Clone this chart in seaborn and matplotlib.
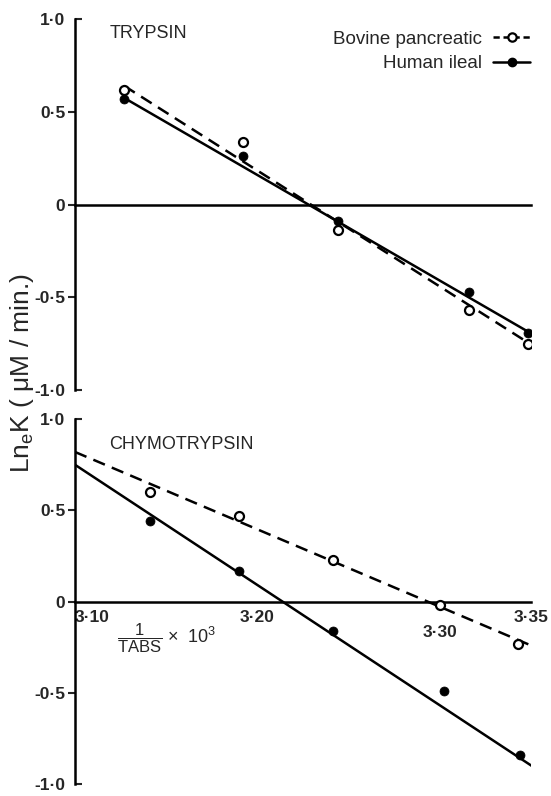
import numpy as np
import pandas as pd
import seaborn as sns
import matplotlib.pyplot as plt
from matplotlib.ticker import FixedLocator, FixedFormatter
from matplotlib.lines import Line2D

# Points (x = 1/T_abs x 10^3, y = ln K)
trypsin_x = [3.127, 3.192, 3.244, 3.316, 3.348]
trypsin_bovine = [0.62, 0.34, -0.135, -0.57, -0.75]
trypsin_human = [0.57, 0.26, -0.09, -0.47, -0.69]

chymo_x_bovine = [3.141, 3.190, 3.2415, 3.300, 3.343]
chymo_bovine = [0.60, 0.47, 0.23, -0.02, -0.23]
chymo_x_human = [3.141, 3.190, 3.2415, 3.302, 3.344]
chymo_human = [0.44, 0.17, -0.16, -0.49, -0.84]

# Fitted lines (end values)
trypsin_fit_x = [3.127, 3.350]
trypsin_fit_bovine = [0.64, -0.755]
trypsin_fit_human = [0.575, -0.695]
chymo_fit_x = [3.10, 3.351]
chymo_fit_bovine = [0.82, -0.245]
chymo_fit_human = [0.75, -0.905]

x_ticks = [3.10, 3.15, 3.20, 3.25, 3.30, 3.35]
x_labels = ["3·10", "", "3·20", "", "3·30", "3·35"]

sns.set_style("white")
plt.rcParams["font.family"] = ["Liberation Sans", "DejaVu Sans"]
plt.rcParams["mathtext.fontset"] = "custom"
plt.rcParams["mathtext.rm"] = "Liberation Sans"
plt.rcParams["mathtext.it"] = "Liberation Sans:italic"

fig = plt.figure(figsize=(5.51, 7.96), dpi=100)
ax1 = fig.add_axes([0.136, 0.510, 0.828, 0.466])
ax2 = fig.add_axes([0.136, 0.015, 0.828, 0.4585])

open_kw = dict(marker="o", s=42, facecolor="white", edgecolor="black", linewidth=1.6, zorder=3)
fill_kw = dict(marker="o", s=42, color="black", edgecolor="black", zorder=3)


def style_axis(ax, bottom):
    ax.set_xlim(3.10, 3.35)
    ax.set_ylim(-1.0, 1.0)
    for s in ["top", "right"]:
        ax.spines[s].set_visible(False)
    ax.spines["bottom"].set_position(("data", 0))
    ax.spines["left"].set_bounds(-1.0, 1.0)
    for s in ["left", "bottom"]:
        ax.spines[s].set_linewidth(1.8)
        ax.spines[s].set_color("black")
    ax.xaxis.set_major_locator(FixedLocator(x_ticks))
    if bottom:
        ax.xaxis.set_major_formatter(FixedFormatter(x_labels))
    else:
        ax.xaxis.set_major_formatter(FixedFormatter([""] * len(x_ticks)))
    ax.tick_params(axis="x", direction="in", length=4, width=1.5, labelsize=12.5, pad=6)
    ax.yaxis.set_major_locator(FixedLocator([-0.5, 0, 0.5]))
    ax.yaxis.set_major_formatter(FixedFormatter(["-0·5", "0", "0·5"]))
    ax.yaxis.set_minor_locator(FixedLocator([-1.0, 1.0]))
    ax.yaxis.set_minor_formatter(FixedFormatter(["-1·0", "1·0"]))
    ax.tick_params(axis="y", which="major", direction="out", length=5, width=1.5,
                   labelsize=12.5, pad=2, left=True)
    ax.tick_params(axis="y", which="minor", direction="in", length=5, width=1.5,
                   labelsize=12.5, pad=7, left=True, labelleft=True)
    for lab in ax.get_xticklabels() + ax.get_yticklabels() + ax.get_yticklabels(minor=True):
        lab.set_fontweight("bold")
    ax.set_xlabel("")
    ax.set_ylabel("")
    if ax.get_legend() is not None:
        ax.get_legend().remove()


# TRYPSIN panel
sns.lineplot(x=trypsin_fit_x, y=trypsin_fit_bovine, ax=ax1, color="black", lw=1.8, linestyle=(0, (5, 3)))
sns.lineplot(x=trypsin_fit_x, y=trypsin_fit_human, ax=ax1, color="black", lw=1.8)
sns.scatterplot(x=trypsin_x, y=trypsin_bovine, ax=ax1, **open_kw)
sns.scatterplot(x=trypsin_x, y=trypsin_human, ax=ax1, **fill_kw)
style_axis(ax1, bottom=False)
ax1.text(3.119, 0.925, "TRYPSIN", fontsize=13, va="center", ha="left")

# legend
handles = [
    Line2D([], [], color="black", lw=1.8, linestyle=(0, (2.5, 1.5)), marker="o",
           markerfacecolor="white", markeredgecolor="black", markersize=6, markeredgewidth=1.6),
    Line2D([], [], color="black", lw=1.8, marker="o", markersize=6),
]
ax1.legend(handles, ["Bovine pancreatic", "Human ileal"], loc="upper right",
           bbox_to_anchor=(1.035, 1.015), frameon=False, markerfirst=False,
           fontsize=13.5, handlelength=2.0, handletextpad=0.6, labelspacing=0.4)

# CHYMOTRYPSIN panel
sns.lineplot(x=chymo_fit_x, y=chymo_fit_bovine, ax=ax2, color="black", lw=1.8, linestyle=(0, (5, 3)))
sns.lineplot(x=chymo_fit_x, y=chymo_fit_human, ax=ax2, color="black", lw=1.8)
sns.scatterplot(x=chymo_x_bovine, y=chymo_bovine, ax=ax2, **open_kw)
sns.scatterplot(x=chymo_x_human, y=chymo_human, ax=ax2, **fill_kw)
style_axis(ax2, bottom=True)
ax2.text(3.119, 0.86, "CHYMOTRYPSIN", fontsize=13, va="center", ha="left")

xt = ax2.xaxis.get_major_ticks()
xt[0].label1.set_horizontalalignment("left")
xt[4].set_pad(17)

ax2.text(3.1356, -0.20, r"$\dfrac{\mathregular{1}}{\mathregular{TABS}}$", fontsize=12, ha="center", va="center")
ax2.text(3.1505, -0.195, r"$\times\ \ \mathregular{10^3}$", fontsize=13, ha="left", va="center")

fig.text(0.04, 0.531, r"Ln$_\mathregular{e}$K ( $\mathregular{\mu}$M / min.)", rotation=90, fontsize=19,
         ha="center", va="center")

fig.savefig("out.png", dpi=100)
